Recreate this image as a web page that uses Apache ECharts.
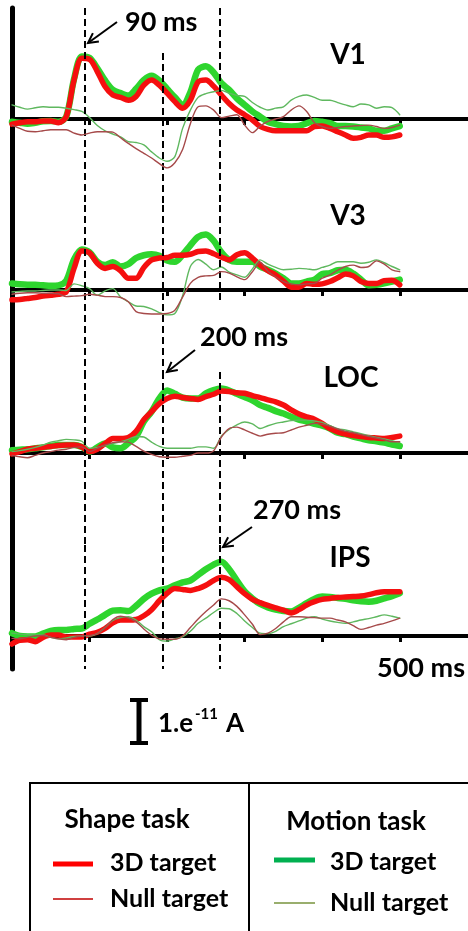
<!DOCTYPE html>
<html>
<head>
<meta charset="utf-8">
<script src="https://cdn.jsdelivr.net/npm/echarts@6/dist/echarts.min.js"></script>
<style>
  html, body { margin: 0; padding: 0; background: #fff; }
  #main { width: 468px; height: 931px; }
</style>
</head>
<body>
<div id="main"></div>
<script>
// sample times (ms)
const times = [0,10,20,30,40,50,60,70,80,90,100,110,120,130,140,150,160,170,180,190,200,
  210,220,230,240,250,260,270,280,290,300,310,320,330,340,350,360,370,380,390,400,
  410,420,430,440,450,460,470,480,490,500]
const tickTimes = [100, 200, 300, 400, 500]
const markTimes = [94, 195, 268]   // dashed guides (labelled 90 / 200 / 270 ms)
const regions = ['V1', 'V3', 'LOC', 'IPS']

// current, in units of 1e-12 A
const v1Shape3D = [-1.1,-0.8,-0.6,-0.6,-0.4,-0.4,-0.8,0.5,8.3,12.9,12.7,10.1,6.9,5.1,4.6,4.0,4.8,7.2,8.3,7.2,
  5.5,3.7,2.3,4.0,7.9,8.3,7.0,5.1,3.3,1.9,0.9,-0.2,-1.6,-2.2,-2.5,-2.5,-2.5,-2.5,-2.5,-1.6,
  -1.5,-2.0,-2.7,-3.4,-4.1,-3.9,-3.4,-3.4,-3.9,-3.8,-3.4]
const v1ShapeNull = [-1.3,-2.0,-2.6,-2.7,-2.5,-2.3,-2.3,-2.3,-3.0,-3.4,-3.0,-2.7,-2.7,-2.8,-4.0,-5.2,-6.3,-7.3,-8.3,-9.5,
  -10.4,-9.3,-6.5,-1.0,2.6,2.8,1.9,0.3,0.6,0.9,-1.3,-2.9,-1.5,-0.5,0.0,0.5,1.9,2.8,1.6,-0.8,
  -1.6,-2.0,-1.8,-1.6,-1.5,-1.4,-1.3,-1.6,-2.0,-1.8,-1.3]
const v1Motion3D = [-0.6,-0.8,-1.0,-0.8,-0.5,-0.4,-0.6,0.5,8.5,13.3,13.0,10.8,8.2,6.2,5.5,5.0,6.4,8.3,9.2,8.2,
  6.4,4.6,3.0,5.7,10.5,11.2,9.9,7.6,6.2,4.4,3.0,1.6,0.5,-0.6,-1.1,-1.5,-1.6,-1.5,-0.9,-0.4,
  -0.6,-0.9,-1.5,-1.5,-1.6,-1.8,-2.0,-2.5,-2.5,-2.0,-1.5]
const v1MotionNull = [3.0,2.5,2.1,2.4,2.6,2.5,2.5,2.3,2.0,1.6,0.3,-1.4,-2.5,-3.2,-3.8,-4.8,-5.0,-5.5,-7.0,-8.3,
  -9.0,-8.0,-2.0,1.9,4.6,5.4,5.8,6.1,5.5,5.0,4.8,3.5,2.5,1.9,2.3,2.6,4.0,4.8,5.1,4.6,
  4.0,4.0,3.5,3.0,2.6,3.2,3.0,2.3,2.6,2.4,0.9]

const v3Shape3D = [-2.1,-2.0,-1.8,-1.6,-1.3,-1.1,-0.9,-0.4,4.6,8.3,7.9,5.7,4.6,5.0,4.1,2.5,2.5,4.8,6.4,6.8,
  6.9,7.4,7.4,7.6,8.2,8.3,7.7,7.0,6.4,7.5,7.9,6.8,5.3,4.1,3.2,1.9,0.6,0.6,1.4,1.2,
  1.3,1.8,2.6,3.4,3.0,1.8,1.4,1.4,2.0,2.1,1.1]
const v3ShapeNull = [-0.9,-0.7,-0.6,-0.6,-0.7,-0.7,-0.8,-1.4,-1.3,-1.2,-0.9,-1.1,-1.4,-1.4,-1.6,-2.5,-4.6,-5.0,-5.1,-5.1,
  -5.0,-4.3,-1.5,1.4,2.7,3.0,3.1,3.9,3.6,2.8,2.2,3.9,5.9,4.0,2.8,1.8,1.3,1.1,1.3,1.4,
  2.5,3.2,4.2,5.0,5.3,4.8,5.0,6.2,5.5,4.3,3.9]
const v3Motion3D = [1.4,1.2,1.1,1.1,1.0,0.9,1.0,2.0,6.5,8.6,8.0,6.0,5.3,5.9,5.0,5.5,6.8,7.4,7.6,7.3,
  6.3,6.0,7.5,9.5,11.3,11.8,10.5,8.0,6.4,6.0,6.0,6.0,5.0,4.3,3.5,2.5,1.4,1.4,1.8,2.2,
  3.4,3.6,4.2,4.3,3.5,2.2,1.0,1.1,1.4,1.8,2.2]
const v3MotionNull = [-0.4,-0.3,-0.2,-0.2,-0.1,0.0,0.0,-0.1,1.3,0.9,0.3,-1.1,-0.2,0.3,-1.5,-2.5,-3.4,-3.5,-4.0,-4.8,
  -5.3,-5.0,-1.2,5.0,6.5,5.5,4.3,4.9,3.8,3.2,2.7,4.5,6.4,5.5,4.8,4.3,4.4,4.6,4.5,4.3,
  4.8,5.3,6.0,6.0,6.0,5.7,5.9,6.4,5.8,5.0,4.3]

const locShape3D = [-0.2,0.3,0.8,1.0,1.2,1.4,1.6,1.7,1.7,1.3,0.3,0.8,2.0,3.1,3.1,3.3,4.6,7.1,8.8,10.5,
  11.6,12.1,11.8,11.6,11.4,12.0,12.5,13.2,13.1,12.8,12.7,12.2,11.8,11.3,10.9,10.2,9.2,8.3,7.7,7.2,
  6.3,5.2,4.5,4.0,3.7,3.5,3.3,3.2,3.1,3.3,3.6]
const locShapeNull = [-0.5,-0.8,-1.0,-0.5,0.0,0.3,0.6,0.8,1.2,1.3,0.3,1.0,1.7,2.2,2.4,2.3,1.4,0.4,-0.3,-0.8,
  -0.9,-0.9,-0.7,-0.5,0.0,0.0,0.5,3.4,5.2,5.5,4.9,4.2,3.6,4.0,4.2,4.3,4.9,5.5,5.9,6.3,
  6.1,5.7,5.1,4.6,4.3,3.9,3.5,3.2,2.8,2.4,2.4]
const locMotion3D = [0.6,0.7,0.8,1.0,1.2,1.5,1.7,1.7,1.7,1.3,0.3,1.2,2.0,1.2,1.0,2.1,3.5,6.7,8.8,11.6,
  13.3,12.6,11.8,11.6,11.6,12.7,13.4,13.7,13.3,12.6,11.9,11.2,10.2,9.6,8.9,8.4,7.7,7.1,6.7,6.2,
  5.8,5.2,4.3,4.0,3.5,3.1,2.7,2.5,2.2,1.8,1.5]
const locMotionNull = [0.3,0.5,0.8,1.2,1.7,2.3,2.6,2.9,2.8,2.5,1.0,1.2,1.6,2.0,2.4,2.9,3.5,3.4,2.3,1.4,
  1.0,1.0,1.0,1.0,1.3,1.3,1.0,3.6,5.0,6.0,6.6,6.2,5.2,5.8,6.3,6.6,6.9,7.0,7.0,6.8,
  6.5,5.8,5.2,4.9,4.5,4.1,3.7,3.3,3.0,2.6,2.2]

const ipsShape3D = [-1.7,-0.9,-0.8,-1.2,-0.3,0.2,0.2,-0.2,-0.2,-0.2,0.4,0.8,1.6,2.8,3.4,3.4,3.5,4.3,5.6,7.5,
  9.1,10.1,9.9,9.7,10.1,10.8,11.8,12.5,12.0,10.5,9.0,7.8,7.1,6.5,6.0,5.5,4.9,5.6,6.6,7.3,
  7.8,8.0,8.2,8.3,8.4,8.5,8.8,9.2,9.4,9.4,9.4]
const ipsShapeNull = [-0.5,-0.6,-0.3,0.0,0.1,-0.3,-0.6,-0.8,-0.3,0.0,0.1,0.5,1.8,3.5,4.2,3.8,3.0,1.5,0.2,-0.6,
  -0.7,-0.7,0.0,1.8,3.6,5.2,6.6,7.9,7.5,6.3,4.5,2.5,0.3,0.6,1.6,3.0,4.1,4.1,4.0,3.9,
  3.8,3.8,3.4,3.0,2.2,1.4,1.8,2.3,2.7,3.2,3.8]
const ipsMotion3D = [0.6,0.0,-0.1,-0.1,0.5,1.1,1.3,1.3,1.5,1.6,2.6,3.5,4.5,5.4,5.5,5.3,6.4,7.9,9.0,9.7,
  10.1,10.8,11.4,11.8,13.0,14.2,15.2,15.8,14.2,11.8,9.5,8.0,6.8,6.1,5.6,5.3,5.2,6.0,7.0,7.9,
  8.4,8.3,8.1,7.9,7.6,7.4,7.3,7.5,8.0,8.5,9.1]
const ipsMotionNull = [0.6,0.4,0.3,0.2,0.2,-0.3,-0.6,-0.4,-0.1,0.0,0.0,0.5,1.8,3.3,3.9,4.1,3.4,2.0,0.9,-0.8,
  -1.1,-0.6,-0.2,1.0,2.7,3.8,5.0,5.9,5.8,4.8,3.2,1.8,0.6,0.5,1.0,2.0,2.6,3.2,3.8,4.1,
  3.6,3.2,2.9,2.7,3.0,3.4,3.7,4.1,4.5,4.2,3.8]

const shape3D = [v1Shape3D, v3Shape3D, locShape3D, ipsShape3D]
const shapeNull = [v1ShapeNull, v3ShapeNull, locShapeNull, ipsShapeNull]
const motion3D = [v1Motion3D, v3Motion3D, locMotion3D, ipsMotion3D]
const motionNull = [v1MotionNull, v3MotionNull, locMotionNull, ipsMotionNull]

// layout (px)
const PX = 4.7                       // px per 1e-12 A, so the 1e-11 A bar is 47 px
const panelTop = [8, 205, 372, 545]
const panelBottom = [205, 372, 545, 669]
const panelBase = [119, 290, 453, 636]
const labelPos = [[348, 55], [348, 216], [351, 378], [350, 558]]
const toVal = (i, px) => (panelBase[i] - px) / PX

// where the dashed guides are cut short by the annotations
const dashSpan = (i, k) => {
  let top = panelTop[i], bottom = panelBottom[i]
  if (i === 0 && k === 1) top = 53
  if (i === 1 && k === 2) bottom = 300
  return [top, bottom]
}

const pairs = (arr) => arr.map((v, j) => [times[j], v])
const FONT = 'Lato, "Open Sans", sans-serif'

const grid = [], xAxis = [], yAxis = [], series = []
regions.forEach((name, i) => {
  grid.push({ left: 12, width: 456, top: panelTop[i], height: panelBottom[i] - panelTop[i] })
  xAxis.push({
    gridIndex: i, type: 'value', min: 0, max: 588,
    axisLine: { show: true, onZero: true, lineStyle: { color: '#000', width: 4 } },
    axisTick: { show: true, customValues: tickTimes, length: 6, lineStyle: { color: '#000', width: 3 } },
    axisLabel: { show: false }, splitLine: { show: false }
  })
  yAxis.push({
    gridIndex: i, type: 'value', min: toVal(i, panelBottom[i]), max: toVal(i, panelTop[i]),
    axisLine: { show: true, onZero: true, lineStyle: { color: '#000', width: 5 } },
    axisTick: { show: false }, axisLabel: { show: false }, splitLine: { show: false }
  })
  const line = (nm, data, color, width, z) => ({
    name: nm, type: 'line', xAxisIndex: i, yAxisIndex: i, data: pairs(data),
    showSymbol: false, smooth: 0.3, z: z, silent: true,
    lineStyle: { color: color, width: width, cap: 'round', join: 'round' }
  })
  series.push(line('Motion 3D', motion3D[i], '#2ed52e', 6.5, 2))
  series.push(line('Shape 3D', shape3D[i], '#f50f0f', 5.5, 3))
  series.push(line('Motion null', motionNull[i], '#5fb85f', 1.4, 4))
  series.push(line('Shape null', shapeNull[i], '#a64a4a', 1.4, 5))
  // dashed latency guides
  series.push({
    type: 'line', xAxisIndex: i, yAxisIndex: i, data: [], z: 10, silent: true,
    markLine: {
      symbol: ['none', 'none'], silent: true, animation: false, label: { show: false },
      lineStyle: { color: '#000', width: 2, type: [7, 4] },
      emphasis: { disabled: true },
      data: markTimes.map((t, k) => {
        const s = dashSpan(i, k)
        return [{ coord: [t, toVal(i, s[0])] }, { coord: [t, toVal(i, s[1])] }]
      })
    }
  })
})

const txt = (text, x, y, size, align) => ({
  type: 'text', x: x, y: y, silent: true,
  style: { text: text, font: 'bold ' + size + 'px ' + FONT, fill: '#000',
    align: align || 'left', verticalAlign: 'middle',
    textAlign: align || 'left', textVerticalAlign: 'middle' }
})
const seg = (x1, y1, x2, y2, color, w) => ({
  type: 'line', silent: true, shape: { x1, y1, x2, y2 },
  style: { stroke: color, lineWidth: w }
})
const arrow = (x1, y1, x2, y2) => {
  const a = Math.atan2(y2 - y1, x2 - x1), L = 11, w = Math.PI / 6.5
  return [seg(x1, y1, x2, y2, '#000', 2), {
    type: 'polyline', silent: true,
    shape: { points: [[x2 - L * Math.cos(a - w), y2 - L * Math.sin(a - w)], [x2, y2],
      [x2 - L * Math.cos(a + w), y2 - L * Math.sin(a + w)]] },
    style: { stroke: '#000', lineWidth: 2, fill: 'none' }
  }]
}

const graphic = []
regions.forEach((name, i) => graphic.push(txt(name, labelPos[i][0], labelPos[i][1], 28, 'center')))
// latency notes
graphic.push(txt('90 ms', 125, 22, 27))
graphic.push(...arrow(117, 22, 88, 43))
graphic.push(txt('200 ms', 200, 337, 27))
graphic.push(...arrow(195, 350, 167, 372))
graphic.push(txt('270 ms', 253, 510, 27))
graphic.push(...arrow(252, 527, 223, 547))
graphic.push(txt('500 ms', 377, 668, 27))

// scale bar: 1e-11 A = 10 units
const barTop = 698, barBottom = barTop + 10 * PX
graphic.push(seg(139, barTop, 139, barBottom, '#000', 5))
graphic.push(seg(130, barTop + 2, 148, barTop + 2, '#000', 4))
graphic.push(seg(130, barBottom - 2, 148, barBottom - 2, '#000', 4))
graphic.push(txt('1.e', 158, 724, 26))
graphic.push(txt('-11', 195, 714, 15))
graphic.push(txt('A', 226, 724, 26))

// legend box
graphic.push({ type: 'rect', silent: true, shape: { x: 30, y: 783, width: 445, height: 170 },
  style: { fill: 'none', stroke: '#000', lineWidth: 2 } })
graphic.push(seg(249, 783, 249, 931, '#000', 2))
graphic.push(txt('Shape task', 127, 820, 26, 'center'))
graphic.push(seg(53, 864, 93, 864, '#ff0000', 5))
graphic.push(txt('3D target', 110, 863, 25))
graphic.push(seg(53, 899, 93, 899, '#c00000', 1.5))
graphic.push(txt('Null target', 110, 899, 25))
graphic.push(txt('Motion task', 356, 822, 26, 'center'))
graphic.push(seg(274, 860, 315, 860, '#00b050', 5))
graphic.push(txt('3D target', 330, 862, 25))
graphic.push(seg(274, 903, 315, 903, '#77933c', 1.5))
graphic.push(txt('Null target', 330, 903, 25))

const chart = echarts.init(document.getElementById('main'), null, { renderer: 'canvas' })
chart.setOption({
  animation: false,
  backgroundColor: '#fff',
  grid: grid,
  xAxis: xAxis,
  yAxis: yAxis,
  series: series,
  graphic: graphic
})
</script>
</body>
</html>
